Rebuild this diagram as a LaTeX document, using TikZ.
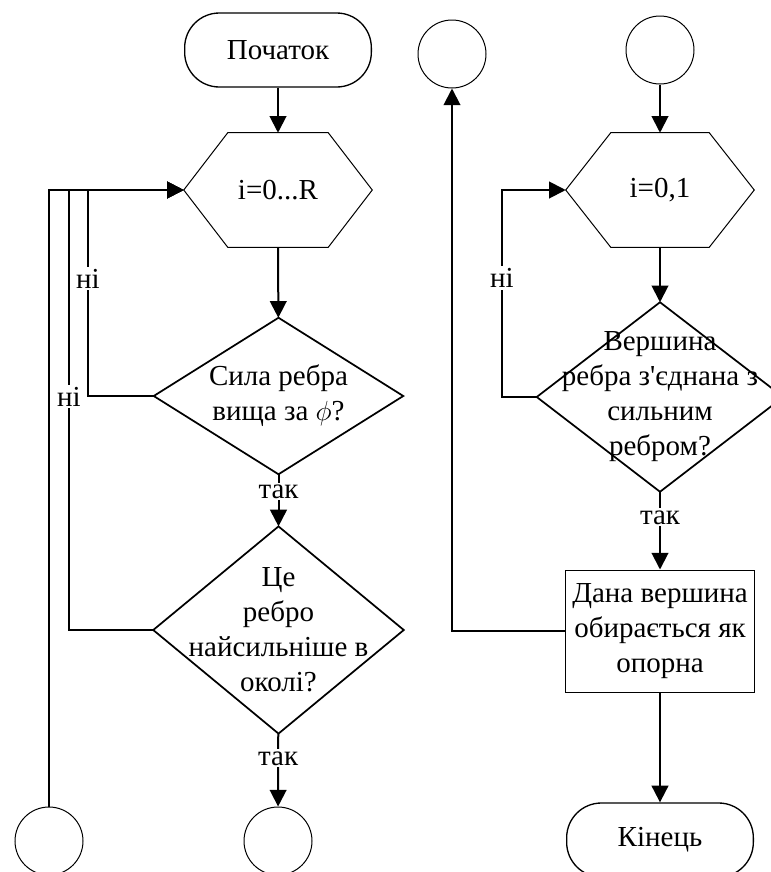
\documentclass[tikz,border=0pt]{standalone}
\usepackage{fontspec}
\setmainfont{Liberation Serif}
\usetikzlibrary{arrows.meta}

\tikzset{
  every node/.style={font=\fontsize{21.75}{26.25}\selectfont},
  conn/.style={line width=1.5pt, -{Triangle[width=12.5pt,length=12.5pt]}},
  term/.style={draw, line width=1pt, rounded corners=26pt, minimum width=140pt, minimum height=55.5pt, inner sep=0pt},
  joint/.style={draw, circle, line width=0.75pt, minimum size=51pt, inner sep=0pt},
  procbox/.style={draw, line width=0.75pt, minimum width=141.75pt, minimum height=91.5pt, inner sep=0pt, align=center},
  loopbox/.style={minimum width=141pt, minimum height=85.5pt, inner sep=0pt, align=center},
  decbox/.style={inner sep=0pt, align=center},
  outline/.style={line width=0.75pt},
  decline/.style={line width=1.3pt},
  lbl/.style={fill=white, inner sep=1.5pt},
}

\begin{document}
\begin{tikzpicture}[x=0.75pt,y=0.75pt,yscale=-1,xscale=1]
\useasboundingbox (0,0) rectangle (771,872);

% Terminal
\node [term] (start) at (278,50) {Початок};
% Loop over edges
\node [loopbox] (loopA) at (278,190) {i=0...R};
\draw [outline] (loopA.west) -- ([xshift=33pt]loopA.north west) -- ([xshift=-33pt]loopA.north east) -- (loopA.east) -- ([xshift=-33pt]loopA.south east) -- ([xshift=33pt]loopA.south west) -- cycle;
% Decision
\node [decbox, minimum width=186.75pt, minimum height=117pt] (strong) at (278.5,396) {Сила ребра\\вища за $\phi$?};
\draw [decline] (strong.west) -- (strong.north) -- (strong.east) -- (strong.south) -- cycle;
% Decision
\node [decbox, minimum width=187.5pt, minimum height=155pt] (maxnb) at (278.5,630) {Це\\ребро\\найсильніше в\\околі?};
\draw [decline] (maxnb.west) -- (maxnb.north) -- (maxnb.east) -- (maxnb.south) -- cycle;
% Connectors
\node [joint] (outL) at (49,841) {};
\node [joint] (outA) at (278,841) {};
\node [joint] (outR) at (452,54) {};
\node [joint] (inB) at (660,50) {};
% Loop over vertices
\node [loopbox] (loopB) at (660,190) {i=0,1};
\draw [outline] (loopB.west) -- ([xshift=33.75pt]loopB.north west) -- ([xshift=-33.75pt]loopB.north east) -- (loopB.east) -- ([xshift=-33.75pt]loopB.south east) -- ([xshift=33.75pt]loopB.south west) -- cycle;
% Decision
\node [decbox, minimum width=184.5pt, minimum height=141.75pt] (linked) at (660,397) {Вершина\\ребра з\textquotesingle єднана з\\сильним\\ребром?};
\draw [decline] (linked.west) -- (linked.north) -- (linked.east) -- (linked.south) -- cycle;
% Process
\node [procbox] (pick) at (660,631) {Дана вершина\\обирається як\\опорна};
% Terminal
\node [term] (stop) at (660,840) {Кінець};

%Straight Lines
\draw [conn] (start) -- (loopA);
\draw [conn] (loopA) -- (strong);
\draw [conn] (strong) -- node [lbl, pos=0.33] {так} (maxnb);
\draw [conn] (maxnb) -- node [lbl, pos=0.34] {так} (outA);
\draw [conn] (strong.west) -- (88,396) -- node [lbl, pos=0.57] {ні} (88,190) -- (loopA.west);
\draw [conn] (maxnb.west) -- (69,630) -- node [lbl, pos=0.53] {ні} (69,190) -- (loopA.west);
\draw [conn] (outL) -- (49,190) -- (loopA.west);
\draw [conn] (inB) -- (loopB);
\draw [conn] (loopB) -- (linked);
\draw [conn] (linked) -- node [lbl, pos=0.33] {так} (pick);
\draw [conn] (linked.west) -- (502,397) -- node [lbl, pos=0.575] {ні} (502,190) -- (loopB.west);
\draw [conn] (pick.west) -- (452,631) -- (outR);
\draw [conn] (pick) -- (stop);

\end{tikzpicture}
\end{document}
